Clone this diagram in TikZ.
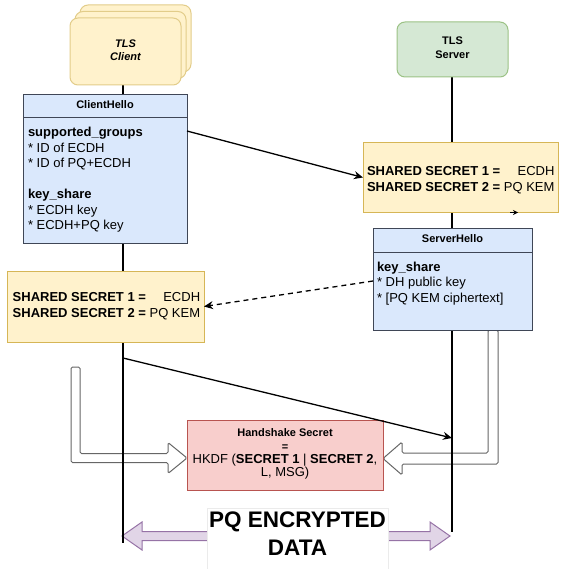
\documentclass[tikz,border=0pt]{standalone}
\usepackage{fontspec}
\setmainfont{Liberation Sans}
\usetikzlibrary{arrows.meta,calc}
\definecolor{yfill}{HTML}{FFF2CC}
\definecolor{ystroke}{HTML}{D6B656}
\definecolor{gfill}{HTML}{D5E8D4}
\definecolor{gstroke}{HTML}{82B366}
\definecolor{bfill}{HTML}{DAE8FC}
\definecolor{bstroke}{HTML}{3F4656}
\definecolor{rfill}{HTML}{F8CECC}
\definecolor{rstroke}{HTML}{B85450}
\definecolor{pfill}{HTML}{E1D5E7}
\definecolor{pstroke}{HTML}{9673A6}
\newcommand\fsz[2]{\fontsize{#1}{#2}\selectfont}
\newcommand\lines[2]{\begin{tabular}[t]{@{}#1@{}}#2\end{tabular}}
\begin{document}
\begin{tikzpicture}[x=1pt,y=-1pt,
  every node/.style={inner sep=0pt, outer sep=0pt},
  box/.style={rectangle, line width=1pt},
  actorbox/.style={box, rounded corners=8pt, draw=ystroke!70, fill=yfill, minimum width=111pt, minimum height=67pt},
  srvbox/.style={box, rounded corners=8pt, draw=gstroke!80, fill=gfill},
  msgbox/.style={box, draw=bstroke, fill=bfill},
  secbox/.style={box, draw=ystroke, fill=yfill},
  hsbox/.style={box, draw=rstroke, fill=rfill},
  life/.style={line width=1.3pt, draw=black},
  conn/.style={line width=1.3pt, -{Stealth[length=9pt,width=8pt]}},
  hollow/.style={draw=black!60, fill=white, line width=1pt, rounded corners=1.5pt},
  pqarrow/.style={draw=pstroke, fill=pfill, line width=1pt},
  divider/.style={draw=bstroke, line width=1pt},
]
\useasboundingbox (0,0) rectangle (564,569);

% hollow arrows into the handshake box
\draw[hollow] (71,367) -- (80,367) -- (80,453.5) -- (168,453.5) -- (168,442.5) -- (187,458) -- (168,473.5) -- (168,462.5) -- (71,462.5) -- cycle;
\draw[hollow] (488,330) -- (498,330) -- (498,464) -- (402,464) -- (402,475) -- (383,458.5) -- (402,442) -- (402,453) -- (488,453) -- cycle;

% PQ encrypted data double arrow
\coordinate (pqL) at (122,536);
\coordinate (pqR) at (450,536);
\draw[pqarrow] (pqL) -- ++(20,-14) -- ++(0,9.5) -- ($(pqR)+(-20,-4.5)$) -- ++(0,-9.5) -- (pqR) -- ++(-20,14) -- ++(0,-9.5) -- ($(pqL)+(20,4.5)$) -- ++(0,9.5) -- cycle;

% lifelines
\coordinate (cltop) at (123,85);
\coordinate (clbot) at (123,543);
\coordinate (sltop) at (452,77);
\coordinate (slbot) at (452,532);
\draw[life] (cltop) -- (clbot);
\draw[life] (sltop) -- (slbot);

% TLS client (stacked)
\node[actorbox] (clientb2) at (135.5,38.5) {};
\node[actorbox] (clientb1) at (130.5,45) {};
\node[actorbox] (client) at (125.5,51.5) {};
\node[font=\fsz{11}{13.5}\bfseries\itshape, anchor=base] (clientlbl) at (125.5,47.3) {\lines{c}{TLS\\Client}};

% TLS server
\node[srvbox, minimum width=111pt, minimum height=55pt] (server) at (452.5,49.5) {};
\node[font=\fsz{11}{14}\bfseries, anchor=base] (serverlbl) at (452.5,44.3) {\lines{c}{TLS\\Server}};

% ClientHello
\node[msgbox, minimum width=164pt, minimum height=148pt] (ch) at (105,169) {};
\draw[divider] ($(ch.north west)+(0,23)$) -- ($(ch.north east)+(0,23)$);
\node[font=\fsz{11}{13}\bfseries, anchor=base] (chh) at (105,109) {ClientHello};
\node[font=\fsz{13}{15.5}, anchor=base west] (chb) at (28,137) {\lines{l}{\textbf{supported\_groups}\\ {*} ID of ECDH\\ {*} ID of PQ+ECDH\\ {}\\ \textbf{key\_share}\\ {*} ECDH key\\ {*} ECDH+PQ key}};

% Server shared secret
\node[secbox, minimum width=195pt, minimum height=69pt] (ss) at (460.5,177.5) {};
\node[font=\fsz{13}{15.5}, anchor=base west] (sst) at (367,176) {\lines{l@{\ }r}{\textbf{SHARED SECRET 1 =} & ECDH\\ \textbf{SHARED SECRET 2 =} & PQ KEM}};

% ServerHello
\node[msgbox, minimum width=159pt, minimum height=102pt] (sh) at (452.5,279) {};
\draw[divider] ($(sh.north west)+(0,24)$) -- ($(sh.north east)+(0,24)$);
\node[font=\fsz{11}{13}\bfseries, anchor=base] (shh) at (452.5,242.7) {ServerHello};
\node[font=\fsz{13}{15.5}, anchor=base west] (shb) at (377,271) {\lines{l}{\textbf{key\_share}\\ {*} DH public key\\ {*} [PQ KEM ciphertext]}};

% Client shared secret
\node[secbox, minimum width=197pt, minimum height=71pt] (cs) at (105.5,306.5) {};
\node[font=\fsz{13}{15.5}, anchor=base west] (cst) at (12.7,301.7) {\lines{l@{\ }r}{\textbf{SHARED SECRET 1 =} & ECDH\\ \textbf{SHARED SECRET 2 =} & PQ KEM}};

% Handshake secret
\node[hsbox, minimum width=196pt, minimum height=70pt] (hs) at (285,455) {};
\node[font=\fsz{13}{13.3}, anchor=base] (hst) at (285,436.7) {\lines{c}{{\fsz{11}{13.3}\bfseries Handshake Secret}\\ {\fsz{11}{13.3}\bfseries =}\\ HKDF (\textbf{SECRET 1} | \textbf{SECRET 2},\\ L, MSG)}};

% connectors
\draw[conn] ($(ch.north east)+(0,36)$) -- (ss.west);
\draw[conn, dash pattern=on 5pt off 4pt] ($(sh.west)+(0,2)$) -- (cs.east);
\coordinate (m1) at (123,358);
\coordinate (m2) at (452,438);
\draw[conn] (m1) -- (m2);
\coordinate (t1) at (510,212.5);
\coordinate (t2) at (518,212.5);
\draw[line width=1pt, -{Stealth[length=5pt,width=5pt]}] (t1) -- (t2);

% PQ encrypted data label
\node[fill=white, draw=black!8, minimum width=181pt, minimum height=63pt] (pqbox) at (297.5,539.5) {};
\node[font=\fsz{22.5}{27.3}\bfseries, anchor=base] (pqt) at (297.5,527.7) {\lines{c}{PQ ENCRYPTED\\DATA}};
\end{tikzpicture}
\end{document}
